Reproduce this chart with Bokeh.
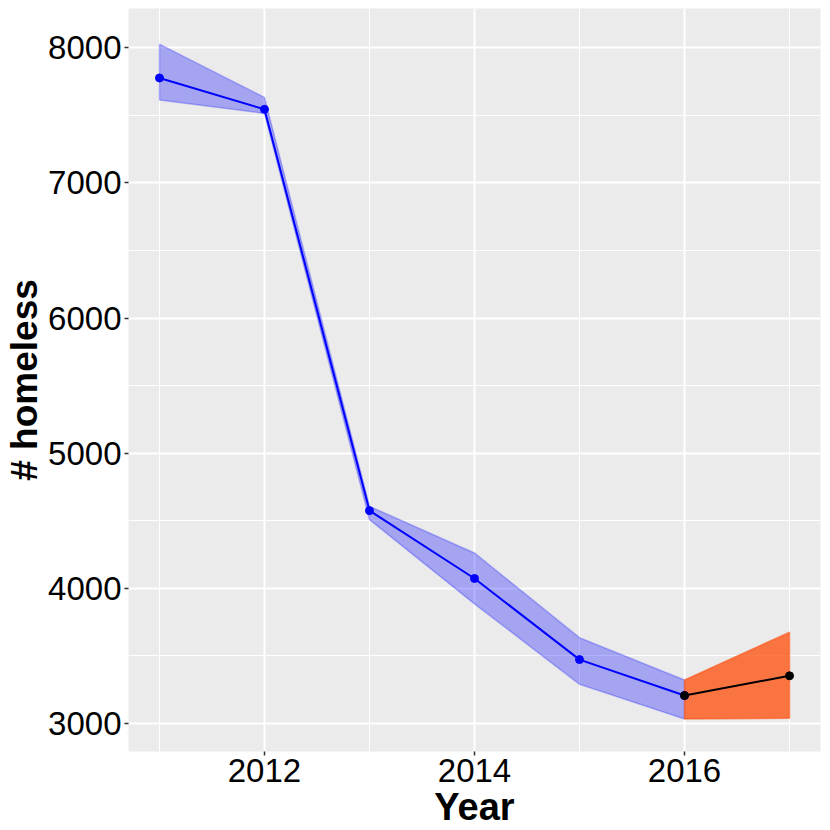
from bokeh.plotting import figure
from bokeh.models import FixedTicker
from bokeh.embed import file_html
from bokeh.resources import INLINE

# observed series
years = [2011, 2012, 2013, 2014, 2015, 2016]
mean = [7776, 7544, 4575, 4073, 3473, 3207]
upper = [8026, 7632, 4607, 4262, 3635, 3322]
lower = [7613, 7514, 4508, 3885, 3290, 3033]

# forecast
f_years = [2016, 2017]
f_mean = [3207, 3353]
f_upper = [3322, 3676]
f_lower = [3033, 3039]

x_ticks = [2012, 2014, 2016]
x_minor = [2011, 2013, 2015, 2017]
y_ticks = [3000, 4000, 5000, 6000, 7000, 8000]
y_minor = [2500, 3500, 4500, 5500, 6500, 7500, 8500]

FONT = "Liberation Sans"

p = figure(width=830, height=830, x_range=(2010.705, 2017.295), y_range=(2793, 8290),
           output_backend="svg", toolbar_location=None,
           background_fill_color="#EBEBEB", border_fill_color="white",
           min_border_left=128, min_border_right=10, min_border_top=8, min_border_bottom=79,
           outline_line_color=None)

# ribbons
p.patch(years + years[::-1], upper + lower[::-1], fill_color="blue", fill_alpha=0.3,
        line_color="blue", line_alpha=0.25, line_width=1.5)
p.patch(f_years + f_years[::-1], f_upper + f_lower[::-1], fill_color="#FF4500", fill_alpha=0.72,
        line_color="#FF4500", line_alpha=0.5, line_width=1.5)

# lines and points
p.line(years, mean, line_color="blue", line_width=2)
p.scatter(years, mean, size=8, fill_color="blue", line_color="blue")
p.line(f_years, f_mean, line_color="black", line_width=2)
p.scatter(f_years, f_mean, size=8, fill_color="black", line_color="black")

# axes
p.xaxis.ticker = FixedTicker(ticks=x_ticks, minor_ticks=x_minor)
p.yaxis.ticker = FixedTicker(ticks=y_ticks, minor_ticks=y_minor)
for ax in (p.xaxis[0], p.yaxis[0]):
    ax.axis_line_color = None
    ax.major_tick_line_color = "#333333"
    ax.major_tick_line_width = 1.5
    ax.major_tick_out = 4
    ax.major_tick_in = 0
    ax.minor_tick_line_color = None
    ax.major_label_text_font = FONT
    ax.major_label_text_font_size = "33px"
    ax.major_label_text_color = "black"
    ax.axis_label_text_font = FONT
    ax.axis_label_text_font_size = "38px"
    ax.axis_label_text_font_style = "bold"
    ax.axis_label_text_color = "black"

p.yaxis.axis_label_text_font_size = "37px"
p.xaxis.axis_label = "Year"
p.yaxis.axis_label = "# homeless"
p.xaxis.major_label_standoff = 3
p.xaxis.axis_label_standoff = 1
p.yaxis.major_label_standoff = 3
p.yaxis.axis_label_standoff = 0

# grid
p.xgrid.grid_line_color = "white"
p.xgrid.grid_line_width = 2
p.xgrid.minor_grid_line_color = "white"
p.xgrid.minor_grid_line_width = 1
p.ygrid.grid_line_color = "white"
p.ygrid.grid_line_width = 2
p.ygrid.minor_grid_line_color = "white"
p.ygrid.minor_grid_line_width = 1

open("out.html", "w").write(file_html(p, INLINE))
